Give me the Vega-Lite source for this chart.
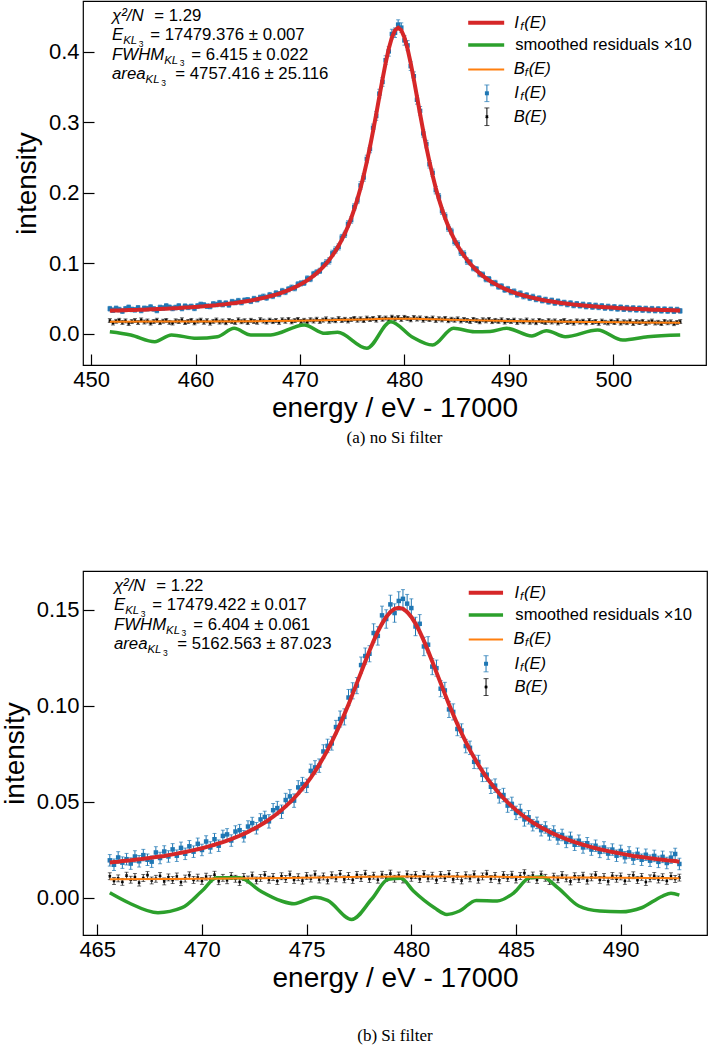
{
"$schema": "https://vega.github.io/schema/vega-lite/v6.json",
"background": "white",
"padding": {"left": 0, "top": 0, "right": 2, "bottom": 5},
"spacing": 123,
"config": {
 "view": {"stroke": "black", "strokeWidth": 1.2},
 "axis": {"domain": false, "grid": false, "ticks": true, "tickSize": -11, "tickWidth": 1.2, "tickColor": "black", "labelFont": "Liberation Sans", "labelFontSize": 22, "labelColor": "black", "labelPadding": 15, "labelFlush": false, "labelOverlap": false, "titleFont": "Liberation Sans", "titleFontSize": 28, "titleFontWeight": "normal", "titleColor": "black"},
 "axisX": {"titlePadding": 4},
 "axisY": {"titlePadding": 7},
 "text": {"font": "Liberation Sans", "color": "black"},
 "title": {"font": "Liberation Serif", "fontSize": 17, "fontWeight": "normal", "color": "black"}
},
"datasets": {
"a": [
{"e":451.8,"i":0.0352,"ie":0.0033,"f":0.0324,"b":0.0183,"be":0.0028},
{"e":452.1,"i":0.0331,"ie":0.0033,"f":0.0325,"b":0.0149,"be":0.0028},
{"e":452.4,"i":0.0357,"ie":0.0033,"f":0.0326,"b":0.0174,"be":0.0028},
{"e":452.7,"i":0.0340,"ie":0.0033,"f":0.0328,"b":0.0188,"be":0.0028},
{"e":453.0,"i":0.0318,"ie":0.0033,"f":0.0329,"b":0.0158,"be":0.0028},
{"e":453.3,"i":0.0351,"ie":0.0033,"f":0.0330,"b":0.0179,"be":0.0028},
{"e":453.6,"i":0.0372,"ie":0.0033,"f":0.0332,"b":0.0143,"be":0.0028},
{"e":453.9,"i":0.0342,"ie":0.0033,"f":0.0333,"b":0.0169,"be":0.0028},
{"e":454.2,"i":0.0336,"ie":0.0033,"f":0.0335,"b":0.0184,"be":0.0028},
{"e":454.5,"i":0.0365,"ie":0.0033,"f":0.0336,"b":0.0157,"be":0.0028},
{"e":454.8,"i":0.0327,"ie":0.0033,"f":0.0338,"b":0.0193,"be":0.0028},
{"e":455.1,"i":0.0358,"ie":0.0033,"f":0.0339,"b":0.0163,"be":0.0028},
{"e":455.4,"i":0.0352,"ie":0.0033,"f":0.0341,"b":0.0178,"be":0.0028},
{"e":455.7,"i":0.0376,"ie":0.0033,"f":0.0343,"b":0.0148,"be":0.0028},
{"e":456.0,"i":0.0349,"ie":0.0033,"f":0.0345,"b":0.0170,"be":0.0028},
{"e":456.3,"i":0.0327,"ie":0.0033,"f":0.0347,"b":0.0189,"be":0.0028},
{"e":456.6,"i":0.0370,"ie":0.0033,"f":0.0349,"b":0.0154,"be":0.0028},
{"e":456.9,"i":0.0362,"ie":0.0033,"f":0.0351,"b":0.0175,"be":0.0028},
{"e":457.2,"i":0.0391,"ie":0.0033,"f":0.0353,"b":0.0186,"be":0.0028},
{"e":457.5,"i":0.0373,"ie":0.0033,"f":0.0355,"b":0.0159,"be":0.0028},
{"e":457.8,"i":0.0356,"ie":0.0033,"f":0.0357,"b":0.0149,"be":0.0028},
{"e":458.1,"i":0.0369,"ie":0.0033,"f":0.0360,"b":0.0180,"be":0.0028},
{"e":458.4,"i":0.0391,"ie":0.0033,"f":0.0362,"b":0.0169,"be":0.0028},
{"e":458.7,"i":0.0355,"ie":0.0033,"f":0.0365,"b":0.0195,"be":0.0028},
{"e":459.0,"i":0.0388,"ie":0.0033,"f":0.0368,"b":0.0155,"be":0.0028},
{"e":459.3,"i":0.0372,"ie":0.0033,"f":0.0371,"b":0.0172,"be":0.0028},
{"e":459.6,"i":0.0385,"ie":0.0033,"f":0.0374,"b":0.0187,"be":0.0028},
{"e":459.9,"i":0.0357,"ie":0.0033,"f":0.0377,"b":0.0151,"be":0.0028},
{"e":460.2,"i":0.0391,"ie":0.0033,"f":0.0380,"b":0.0176,"be":0.0028},
{"e":460.5,"i":0.0413,"ie":0.0033,"f":0.0384,"b":0.0190,"be":0.0028},
{"e":460.8,"i":0.0405,"ie":0.0033,"f":0.0387,"b":0.0160,"be":0.0028},
{"e":461.1,"i":0.0388,"ie":0.0033,"f":0.0391,"b":0.0181,"be":0.0028},
{"e":461.4,"i":0.0384,"ie":0.0033,"f":0.0395,"b":0.0147,"be":0.0028},
{"e":461.7,"i":0.0420,"ie":0.0033,"f":0.0399,"b":0.0173,"be":0.0028},
{"e":462.0,"i":0.0411,"ie":0.0033,"f":0.0403,"b":0.0192,"be":0.0028},
{"e":462.3,"i":0.0437,"ie":0.0033,"f":0.0408,"b":0.0162,"be":0.0028},
{"e":462.6,"i":0.0410,"ie":0.0033,"f":0.0412,"b":0.0178,"be":0.0028},
{"e":462.9,"i":0.0431,"ie":0.0033,"f":0.0417,"b":0.0153,"be":0.0028},
{"e":463.2,"i":0.0406,"ie":0.0033,"f":0.0423,"b":0.0185,"be":0.0028},
{"e":463.5,"i":0.0452,"ie":0.0033,"f":0.0428,"b":0.0170,"be":0.0028},
{"e":463.8,"i":0.0440,"ie":0.0033,"f":0.0434,"b":0.0158,"be":0.0028},
{"e":464.1,"i":0.0466,"ie":0.0033,"f":0.0441,"b":0.0194,"be":0.0028},
{"e":464.4,"i":0.0439,"ie":0.0033,"f":0.0447,"b":0.0167,"be":0.0028},
{"e":464.7,"i":0.0472,"ie":0.0033,"f":0.0454,"b":0.0181,"be":0.0028},
{"e":465.0,"i":0.0478,"ie":0.0033,"f":0.0462,"b":0.0156,"be":0.0028},
{"e":465.3,"i":0.0458,"ie":0.0033,"f":0.0469,"b":0.0188,"be":0.0028},
{"e":465.6,"i":0.0495,"ie":0.0033,"f":0.0478,"b":0.0171,"be":0.0028},
{"e":465.9,"i":0.0480,"ie":0.0033,"f":0.0487,"b":0.0160,"be":0.0028},
{"e":466.2,"i":0.0512,"ie":0.0033,"f":0.0496,"b":0.0196,"be":0.0028},
{"e":466.5,"i":0.0523,"ie":0.0037,"f":0.0506,"b":0.0177,"be":0.0028},
{"e":466.8,"i":0.0508,"ie":0.0037,"f":0.0517,"b":0.0162,"be":0.0028},
{"e":467.1,"i":0.0546,"ie":0.0037,"f":0.0528,"b":0.0190,"be":0.0028},
{"e":467.4,"i":0.0532,"ie":0.0037,"f":0.0540,"b":0.0168,"be":0.0028},
{"e":467.7,"i":0.0571,"ie":0.0037,"f":0.0553,"b":0.0185,"be":0.0028},
{"e":468.0,"i":0.0560,"ie":0.0037,"f":0.0567,"b":0.0159,"be":0.0028},
{"e":468.3,"i":0.0604,"ie":0.0037,"f":0.0582,"b":0.0194,"be":0.0028},
{"e":468.6,"i":0.0589,"ie":0.0037,"f":0.0598,"b":0.0174,"be":0.0028},
{"e":468.9,"i":0.0628,"ie":0.0037,"f":0.0616,"b":0.0199,"be":0.0028},
{"e":469.2,"i":0.0651,"ie":0.0037,"f":0.0635,"b":0.0165,"be":0.0028},
{"e":469.5,"i":0.0643,"ie":0.0037,"f":0.0655,"b":0.0183,"be":0.0028},
{"e":469.8,"i":0.0698,"ie":0.0037,"f":0.0677,"b":0.0201,"be":0.0028},
{"e":470.1,"i":0.0712,"ie":0.0037,"f":0.0701,"b":0.0170,"be":0.0028},
{"e":470.4,"i":0.0719,"ie":0.0037,"f":0.0727,"b":0.0188,"be":0.0028},
{"e":470.7,"i":0.0781,"ie":0.0037,"f":0.0755,"b":0.0166,"be":0.0028},
{"e":471.0,"i":0.0773,"ie":0.0037,"f":0.0786,"b":0.0195,"be":0.0028},
{"e":471.3,"i":0.0845,"ie":0.0037,"f":0.0819,"b":0.0177,"be":0.0028},
{"e":471.6,"i":0.0868,"ie":0.0037,"f":0.0856,"b":0.0203,"be":0.0028},
{"e":471.9,"i":0.0889,"ie":0.0037,"f":0.0897,"b":0.0172,"be":0.0028},
{"e":472.2,"i":0.0972,"ie":0.0037,"f":0.0941,"b":0.0190,"be":0.0028},
{"e":472.5,"i":0.1003,"ie":0.0045,"f":0.0990,"b":0.0208,"be":0.0028},
{"e":472.8,"i":0.1031,"ie":0.0045,"f":0.1045,"b":0.0175,"be":0.0028},
{"e":473.1,"i":0.1138,"ie":0.0045,"f":0.1105,"b":0.0194,"be":0.0028},
{"e":473.4,"i":0.1186,"ie":0.0045,"f":0.1171,"b":0.0181,"be":0.0028},
{"e":473.7,"i":0.1229,"ie":0.0045,"f":0.1245,"b":0.0210,"be":0.0028},
{"e":474.0,"i":0.1362,"ie":0.0045,"f":0.1328,"b":0.0185,"be":0.0028},
{"e":474.3,"i":0.1408,"ie":0.0045,"f":0.1420,"b":0.0202,"be":0.0028},
{"e":474.6,"i":0.1555,"ie":0.0045,"f":0.1522,"b":0.0178,"be":0.0028},
{"e":474.9,"i":0.1611,"ie":0.0045,"f":0.1637,"b":0.0199,"be":0.0028},
{"e":475.2,"i":0.1797,"ie":0.0045,"f":0.1765,"b":0.0215,"be":0.0028},
{"e":475.5,"i":0.1889,"ie":0.0045,"f":0.1908,"b":0.0189,"be":0.0028},
{"e":475.8,"i":0.2102,"ie":0.0053,"f":0.2066,"b":0.0208,"be":0.0028},
{"e":476.1,"i":0.2215,"ie":0.0053,"f":0.2242,"b":0.0183,"be":0.0028},
{"e":476.4,"i":0.2478,"ie":0.0053,"f":0.2436,"b":0.0219,"be":0.0028},
{"e":476.7,"i":0.2619,"ie":0.0053,"f":0.2647,"b":0.0197,"be":0.0028},
{"e":477.0,"i":0.2920,"ie":0.0053,"f":0.2875,"b":0.0214,"be":0.0028},
{"e":477.3,"i":0.3088,"ie":0.0062,"f":0.3115,"b":0.0190,"be":0.0028},
{"e":477.6,"i":0.3405,"ie":0.0062,"f":0.3362,"b":0.0225,"be":0.0028},
{"e":477.9,"i":0.3571,"ie":0.0062,"f":0.3607,"b":0.0203,"be":0.0028},
{"e":478.2,"i":0.3880,"ie":0.0062,"f":0.3838,"b":0.0220,"be":0.0028},
{"e":478.5,"i":0.4005,"ie":0.0068,"f":0.4042,"b":0.0196,"be":0.0028},
{"e":478.8,"i":0.4251,"ie":0.0068,"f":0.4202,"b":0.0232,"be":0.0028},
{"e":479.1,"i":0.4270,"ie":0.0068,"f":0.4304,"b":0.0208,"be":0.0028},
{"e":479.4,"i":0.4385,"ie":0.0068,"f":0.4340,"b":0.0226,"be":0.0028},
{"e":479.7,"i":0.4342,"ie":0.0068,"f":0.4304,"b":0.0201,"be":0.0028},
{"e":480.0,"i":0.4161,"ie":0.0068,"f":0.4202,"b":0.0230,"be":0.0028},
{"e":480.3,"i":0.4090,"ie":0.0068,"f":0.4042,"b":0.0214,"be":0.0028},
{"e":480.6,"i":0.3795,"ie":0.0062,"f":0.3838,"b":0.0194,"be":0.0028},
{"e":480.9,"i":0.3652,"ie":0.0062,"f":0.3607,"b":0.0227,"be":0.0028},
{"e":481.2,"i":0.3318,"ie":0.0062,"f":0.3362,"b":0.0205,"be":0.0028},
{"e":481.5,"i":0.3160,"ie":0.0062,"f":0.3115,"b":0.0221,"be":0.0028},
{"e":481.8,"i":0.2841,"ie":0.0053,"f":0.2875,"b":0.0189,"be":0.0028},
{"e":482.1,"i":0.2689,"ie":0.0053,"f":0.2647,"b":0.0216,"be":0.0028},
{"e":482.4,"i":0.2402,"ie":0.0053,"f":0.2436,"b":0.0197,"be":0.0028},
{"e":482.7,"i":0.2281,"ie":0.0053,"f":0.2242,"b":0.0220,"be":0.0028},
{"e":483.0,"i":0.2035,"ie":0.0053,"f":0.2066,"b":0.0186,"be":0.0028},
{"e":483.3,"i":0.1942,"ie":0.0045,"f":0.1908,"b":0.0209,"be":0.0028},
{"e":483.6,"i":0.1738,"ie":0.0045,"f":0.1765,"b":0.0193,"be":0.0028},
{"e":483.9,"i":0.1668,"ie":0.0045,"f":0.1637,"b":0.0214,"be":0.0028},
{"e":484.2,"i":0.1496,"ie":0.0045,"f":0.1522,"b":0.0181,"be":0.0028},
{"e":484.5,"i":0.1449,"ie":0.0045,"f":0.1420,"b":0.0203,"be":0.0028},
{"e":484.8,"i":0.1301,"ie":0.0045,"f":0.1328,"b":0.0189,"be":0.0028},
{"e":485.1,"i":0.1270,"ie":0.0045,"f":0.1245,"b":0.0208,"be":0.0028},
{"e":485.4,"i":0.1152,"ie":0.0045,"f":0.1171,"b":0.0178,"be":0.0028},
{"e":485.7,"i":0.1128,"ie":0.0045,"f":0.1105,"b":0.0199,"be":0.0028},
{"e":486.0,"i":0.1027,"ie":0.0045,"f":0.1045,"b":0.0186,"be":0.0028},
{"e":486.3,"i":0.1011,"ie":0.0037,"f":0.0990,"b":0.0172,"be":0.0028},
{"e":486.6,"i":0.0926,"ie":0.0037,"f":0.0941,"b":0.0201,"be":0.0028},
{"e":486.9,"i":0.0913,"ie":0.0037,"f":0.0897,"b":0.0183,"be":0.0028},
{"e":487.2,"i":0.0842,"ie":0.0037,"f":0.0856,"b":0.0166,"be":0.0028},
{"e":487.5,"i":0.0836,"ie":0.0037,"f":0.0819,"b":0.0195,"be":0.0028},
{"e":487.8,"i":0.0771,"ie":0.0037,"f":0.0786,"b":0.0179,"be":0.0028},
{"e":488.1,"i":0.0772,"ie":0.0037,"f":0.0755,"b":0.0200,"be":0.0028},
{"e":488.4,"i":0.0713,"ie":0.0037,"f":0.0727,"b":0.0168,"be":0.0028},
{"e":488.7,"i":0.0718,"ie":0.0037,"f":0.0701,"b":0.0187,"be":0.0028},
{"e":489.0,"i":0.0665,"ie":0.0037,"f":0.0677,"b":0.0173,"be":0.0028},
{"e":489.3,"i":0.0670,"ie":0.0037,"f":0.0655,"b":0.0194,"be":0.0028},
{"e":489.6,"i":0.0621,"ie":0.0037,"f":0.0635,"b":0.0162,"be":0.0028},
{"e":489.9,"i":0.0632,"ie":0.0037,"f":0.0616,"b":0.0185,"be":0.0028},
{"e":490.2,"i":0.0587,"ie":0.0037,"f":0.0598,"b":0.0171,"be":0.0028},
{"e":490.5,"i":0.0596,"ie":0.0037,"f":0.0582,"b":0.0190,"be":0.0028},
{"e":490.8,"i":0.0552,"ie":0.0037,"f":0.0567,"b":0.0158,"be":0.0028},
{"e":491.1,"i":0.0569,"ie":0.0037,"f":0.0553,"b":0.0180,"be":0.0028},
{"e":491.4,"i":0.0528,"ie":0.0037,"f":0.0540,"b":0.0166,"be":0.0028},
{"e":491.7,"i":0.0543,"ie":0.0037,"f":0.0528,"b":0.0192,"be":0.0028},
{"e":492.0,"i":0.0505,"ie":0.0037,"f":0.0517,"b":0.0160,"be":0.0028},
{"e":492.3,"i":0.0521,"ie":0.0037,"f":0.0506,"b":0.0178,"be":0.0028},
{"e":492.6,"i":0.0484,"ie":0.0033,"f":0.0496,"b":0.0153,"be":0.0028},
{"e":492.9,"i":0.0502,"ie":0.0033,"f":0.0487,"b":0.0186,"be":0.0028},
{"e":493.2,"i":0.0466,"ie":0.0033,"f":0.0478,"b":0.0169,"be":0.0028},
{"e":493.5,"i":0.0483,"ie":0.0033,"f":0.0469,"b":0.0157,"be":0.0028},
{"e":493.8,"i":0.0449,"ie":0.0033,"f":0.0462,"b":0.0182,"be":0.0028},
{"e":494.1,"i":0.0471,"ie":0.0033,"f":0.0454,"b":0.0163,"be":0.0028},
{"e":494.4,"i":0.0433,"ie":0.0033,"f":0.0447,"b":0.0179,"be":0.0028},
{"e":494.7,"i":0.0458,"ie":0.0033,"f":0.0441,"b":0.0150,"be":0.0028},
{"e":495.0,"i":0.0427,"ie":0.0033,"f":0.0434,"b":0.0172,"be":0.0028},
{"e":495.3,"i":0.0440,"ie":0.0033,"f":0.0428,"b":0.0185,"be":0.0028},
{"e":495.6,"i":0.0411,"ie":0.0033,"f":0.0423,"b":0.0156,"be":0.0028},
{"e":495.9,"i":0.0432,"ie":0.0033,"f":0.0417,"b":0.0168,"be":0.0028},
{"e":496.2,"i":0.0398,"ie":0.0033,"f":0.0412,"b":0.0147,"be":0.0028},
{"e":496.5,"i":0.0421,"ie":0.0033,"f":0.0408,"b":0.0179,"be":0.0028},
{"e":496.8,"i":0.0394,"ie":0.0033,"f":0.0403,"b":0.0162,"be":0.0028},
{"e":497.1,"i":0.0413,"ie":0.0033,"f":0.0399,"b":0.0175,"be":0.0028},
{"e":497.4,"i":0.0382,"ie":0.0033,"f":0.0395,"b":0.0151,"be":0.0028},
{"e":497.7,"i":0.0405,"ie":0.0033,"f":0.0391,"b":0.0183,"be":0.0028},
{"e":498.0,"i":0.0376,"ie":0.0033,"f":0.0387,"b":0.0158,"be":0.0028},
{"e":498.3,"i":0.0399,"ie":0.0033,"f":0.0384,"b":0.0170,"be":0.0028},
{"e":498.6,"i":0.0371,"ie":0.0033,"f":0.0380,"b":0.0145,"be":0.0028},
{"e":498.9,"i":0.0391,"ie":0.0033,"f":0.0377,"b":0.0177,"be":0.0028},
{"e":499.2,"i":0.0362,"ie":0.0033,"f":0.0374,"b":0.0160,"be":0.0028},
{"e":499.5,"i":0.0384,"ie":0.0033,"f":0.0371,"b":0.0149,"be":0.0028},
{"e":499.8,"i":0.0357,"ie":0.0033,"f":0.0368,"b":0.0174,"be":0.0028},
{"e":500.1,"i":0.0378,"ie":0.0033,"f":0.0365,"b":0.0155,"be":0.0028},
{"e":500.4,"i":0.0349,"ie":0.0033,"f":0.0362,"b":0.0181,"be":0.0028},
{"e":500.7,"i":0.0373,"ie":0.0033,"f":0.0360,"b":0.0148,"be":0.0028},
{"e":501.0,"i":0.0345,"ie":0.0033,"f":0.0357,"b":0.0166,"be":0.0028},
{"e":501.3,"i":0.0366,"ie":0.0033,"f":0.0355,"b":0.0153,"be":0.0028},
{"e":501.6,"i":0.0341,"ie":0.0033,"f":0.0353,"b":0.0176,"be":0.0028},
{"e":501.9,"i":0.0362,"ie":0.0033,"f":0.0351,"b":0.0142,"be":0.0028},
{"e":502.2,"i":0.0336,"ie":0.0033,"f":0.0349,"b":0.0168,"be":0.0028},
{"e":502.5,"i":0.0359,"ie":0.0033,"f":0.0347,"b":0.0155,"be":0.0028},
{"e":502.8,"i":0.0333,"ie":0.0033,"f":0.0345,"b":0.0173,"be":0.0028},
{"e":503.1,"i":0.0355,"ie":0.0033,"f":0.0343,"b":0.0144,"be":0.0028},
{"e":503.4,"i":0.0328,"ie":0.0033,"f":0.0341,"b":0.0162,"be":0.0028},
{"e":503.7,"i":0.0352,"ie":0.0033,"f":0.0339,"b":0.0177,"be":0.0028},
{"e":504.0,"i":0.0325,"ie":0.0033,"f":0.0338,"b":0.0149,"be":0.0028},
{"e":504.3,"i":0.0348,"ie":0.0033,"f":0.0336,"b":0.0160,"be":0.0028},
{"e":504.6,"i":0.0322,"ie":0.0033,"f":0.0335,"b":0.0141,"be":0.0028},
{"e":504.9,"i":0.0346,"ie":0.0033,"f":0.0333,"b":0.0171,"be":0.0028},
{"e":505.2,"i":0.0319,"ie":0.0033,"f":0.0332,"b":0.0152,"be":0.0028},
{"e":505.5,"i":0.0343,"ie":0.0033,"f":0.0330,"b":0.0166,"be":0.0028},
{"e":505.8,"i":0.0317,"ie":0.0033,"f":0.0329,"b":0.0139,"be":0.0028},
{"e":506.1,"i":0.0340,"ie":0.0033,"f":0.0328,"b":0.0158,"be":0.0028},
{"e":506.4,"i":0.0321,"ie":0.0033,"f":0.0326,"b":0.0169,"be":0.0028}
],
"ab": [
{"e":451.8,"g":0.0168},{"e":456,"g":0.0169},{"e":460,"g":0.0170},{"e":466,"g":0.0175},{"e":470,"g":0.0181},{"e":473,"g":0.0190},{"e":476,"g":0.0200},{"e":478,"g":0.0208},{"e":479.4,"g":0.0211},{"e":481,"g":0.0208},{"e":483,"g":0.0201},{"e":486,"g":0.0190},{"e":490,"g":0.0178},{"e":494,"g":0.0169},{"e":498,"g":0.0163},{"e":502,"g":0.0158},{"e":506.4,"g":0.0153}
],
"ag": [
{"e":451.8,"r":0.0026},{"e":453.8,"r":-0.0020},{"e":456.1,"r":-0.0116},{"e":457.7,"r":-0.0020},{"e":460.1,"r":-0.0069},{"e":462.1,"r":-0.0045},{"e":463.7,"r":0.0073},{"e":465.3,"r":-0.0020},{"e":467.2,"r":-0.0020},{"e":470.4,"r":0.0121},{"e":472.4,"r":0.0003},{"e":473.6,"r":0.0017},{"e":476.4,"r":-0.0210},{"e":478.7,"r":0.0168},{"e":480.7,"r":-0.0045},{"e":482.7,"r":-0.0163},{"e":484.7,"r":0.0074},{"e":486.7,"r":0.0026},{"e":488.2,"r":0.0030},{"e":489.8,"r":0.0074},{"e":492.2,"r":-0.0035},{"e":493.6,"r":0.0040},{"e":495.4,"r":-0.0045},{"e":498.5,"r":0.0050},{"e":500.9,"r":-0.0092},{"e":503.3,"r":-0.0045},{"e":506.4,"r":-0.0020}
],
"al": [
{"k":"fit","x":486.105,"x2":489.55,"y":0.4412},
{"k":"res","x":486.105,"x2":489.55,"y":0.4095},
{"k":"bgf","x":486.105,"x2":489.55,"y":0.3749},
{"k":"pts","x":487.895,"y":0.3410,"err":0.0118},
{"k":"bkg","x":487.895,"y":0.3077,"err":0.0125}
],
"at": [
{"part":"sym","x":452.010,"y":0.4436,"t":"χ²/N"},
{"part":"val","x":456.057,"y":0.4436,"t":"= 1.29"},
{"part":"sym","x":452.010,"y":0.4166,"t":"E"},
{"part":"sub","x":453.081,"y":0.4166,"t":"KL"},
{"part":"idx","x":454.565,"y":0.4166,"t":"3"},
{"part":"val","x":455.675,"y":0.4166,"t":"= 17479.376 ± 0.007"},
{"part":"sym","x":452.010,"y":0.3889,"t":"FWHM"},
{"part":"sub","x":457.005,"y":0.3889,"t":"KL"},
{"part":"idx","x":458.488,"y":0.3889,"t":"3"},
{"part":"val","x":459.598,"y":0.3889,"t":"= 6.415 ± 0.022"},
{"part":"sym","x":452.010,"y":0.3612,"t":"area"},
{"part":"sub","x":455.225,"y":0.3612,"t":"KL"},
{"part":"idx","x":456.709,"y":0.3612,"t":"3"},
{"part":"val","x":458.067,"y":0.3612,"t":"= 4757.416 ± 25.116"},
{"part":"lab","x":490.507,"y":0.4412,"t":"I"},
{"part":"labsub","x":491.081,"y":0.4412,"t":"f"},
{"part":"lab","x":491.464,"y":0.4412,"t":"(E)"},
{"part":"labrm","x":490.603,"y":0.4095,"t":"smoothed residuals ×10"},
{"part":"lab","x":490.459,"y":0.3749,"t":"B"},
{"part":"labsub","x":491.512,"y":0.3749,"t":"f"},
{"part":"lab","x":491.895,"y":0.3749,"t":"(E)"},
{"part":"lab","x":490.507,"y":0.3410,"t":"I"},
{"part":"labsub","x":491.081,"y":0.3410,"t":"f"},
{"part":"lab","x":491.464,"y":0.3410,"t":"(E)"},
{"part":"lab","x":490.459,"y":0.3077,"t":"B(E)"}
],
"b": [
{"e":465.6,"i":0.0195,"ie":0.0030,"f":0.0184,"b":0.0112,"be":0.0018},
{"e":465.8,"i":0.0172,"ie":0.0030,"f":0.0186,"b":0.0087,"be":0.0018},
{"e":466.0,"i":0.0210,"ie":0.0030,"f":0.0188,"b":0.0101,"be":0.0018},
{"e":466.2,"i":0.0183,"ie":0.0030,"f":0.0191,"b":0.0083,"be":0.0018},
{"e":466.4,"i":0.0201,"ie":0.0030,"f":0.0193,"b":0.0115,"be":0.0018},
{"e":466.6,"i":0.0178,"ie":0.0030,"f":0.0195,"b":0.0094,"be":0.0018},
{"e":466.8,"i":0.0215,"ie":0.0030,"f":0.0198,"b":0.0108,"be":0.0018},
{"e":467.0,"i":0.0190,"ie":0.0030,"f":0.0200,"b":0.0079,"be":0.0018},
{"e":467.2,"i":0.0222,"ie":0.0030,"f":0.0203,"b":0.0103,"be":0.0018},
{"e":467.4,"i":0.0198,"ie":0.0030,"f":0.0206,"b":0.0118,"be":0.0018},
{"e":467.6,"i":0.0188,"ie":0.0030,"f":0.0209,"b":0.0090,"be":0.0018},
{"e":467.8,"i":0.0236,"ie":0.0030,"f":0.0212,"b":0.0099,"be":0.0018},
{"e":468.0,"i":0.0207,"ie":0.0030,"f":0.0215,"b":0.0114,"be":0.0018},
{"e":468.2,"i":0.0241,"ie":0.0030,"f":0.0218,"b":0.0085,"be":0.0018},
{"e":468.4,"i":0.0215,"ie":0.0030,"f":0.0222,"b":0.0106,"be":0.0018},
{"e":468.6,"i":0.0252,"ie":0.0030,"f":0.0226,"b":0.0092,"be":0.0018},
{"e":468.8,"i":0.0219,"ie":0.0030,"f":0.0230,"b":0.0111,"be":0.0018},
{"e":469.0,"i":0.0260,"ie":0.0030,"f":0.0234,"b":0.0081,"be":0.0018},
{"e":469.2,"i":0.0229,"ie":0.0030,"f":0.0238,"b":0.0100,"be":0.0018},
{"e":469.4,"i":0.0268,"ie":0.0030,"f":0.0243,"b":0.0117,"be":0.0018},
{"e":469.6,"i":0.0240,"ie":0.0030,"f":0.0248,"b":0.0093,"be":0.0018},
{"e":469.8,"i":0.0281,"ie":0.0030,"f":0.0253,"b":0.0105,"be":0.0018},
{"e":470.0,"i":0.0249,"ie":0.0030,"f":0.0258,"b":0.0088,"be":0.0018},
{"e":470.2,"i":0.0293,"ie":0.0030,"f":0.0264,"b":0.0110,"be":0.0018},
{"e":470.4,"i":0.0262,"ie":0.0030,"f":0.0270,"b":0.0097,"be":0.0018},
{"e":470.6,"i":0.0305,"ie":0.0030,"f":0.0276,"b":0.0120,"be":0.0018},
{"e":470.8,"i":0.0271,"ie":0.0030,"f":0.0283,"b":0.0086,"be":0.0018},
{"e":471.0,"i":0.0322,"ie":0.0030,"f":0.0290,"b":0.0104,"be":0.0018},
{"e":471.2,"i":0.0330,"ie":0.0030,"f":0.0298,"b":0.0091,"be":0.0018},
{"e":471.4,"i":0.0298,"ie":0.0030,"f":0.0306,"b":0.0113,"be":0.0018},
{"e":471.6,"i":0.0345,"ie":0.0030,"f":0.0314,"b":0.0099,"be":0.0018},
{"e":471.8,"i":0.0352,"ie":0.0030,"f":0.0323,"b":0.0082,"be":0.0018},
{"e":472.0,"i":0.0320,"ie":0.0030,"f":0.0333,"b":0.0108,"be":0.0018},
{"e":472.2,"i":0.0371,"ie":0.0030,"f":0.0343,"b":0.0095,"be":0.0018},
{"e":472.4,"i":0.0389,"ie":0.0030,"f":0.0355,"b":0.0116,"be":0.0018},
{"e":472.6,"i":0.0362,"ie":0.0030,"f":0.0366,"b":0.0090,"be":0.0018},
{"e":472.8,"i":0.0408,"ie":0.0030,"f":0.0379,"b":0.0103,"be":0.0018},
{"e":473.0,"i":0.0421,"ie":0.0030,"f":0.0392,"b":0.0119,"be":0.0018},
{"e":473.2,"i":0.0398,"ie":0.0035,"f":0.0407,"b":0.0094,"be":0.0018},
{"e":473.4,"i":0.0456,"ie":0.0035,"f":0.0422,"b":0.0108,"be":0.0018},
{"e":473.6,"i":0.0467,"ie":0.0035,"f":0.0439,"b":0.0087,"be":0.0018},
{"e":473.8,"i":0.0448,"ie":0.0035,"f":0.0457,"b":0.0112,"be":0.0018},
{"e":474.0,"i":0.0509,"ie":0.0035,"f":0.0476,"b":0.0098,"be":0.0018},
{"e":474.2,"i":0.0528,"ie":0.0035,"f":0.0497,"b":0.0121,"be":0.0018},
{"e":474.4,"i":0.0506,"ie":0.0035,"f":0.0519,"b":0.0093,"be":0.0018},
{"e":474.6,"i":0.0575,"ie":0.0035,"f":0.0543,"b":0.0107,"be":0.0018},
{"e":474.8,"i":0.0592,"ie":0.0035,"f":0.0569,"b":0.0089,"be":0.0018},
{"e":475.0,"i":0.0583,"ie":0.0035,"f":0.0596,"b":0.0114,"be":0.0018},
{"e":475.2,"i":0.0661,"ie":0.0035,"f":0.0626,"b":0.0100,"be":0.0018},
{"e":475.4,"i":0.0679,"ie":0.0035,"f":0.0658,"b":0.0122,"be":0.0018},
{"e":475.6,"i":0.0688,"ie":0.0035,"f":0.0693,"b":0.0095,"be":0.0018},
{"e":475.8,"i":0.0762,"ie":0.0035,"f":0.0730,"b":0.0111,"be":0.0018},
{"e":476.0,"i":0.0791,"ie":0.0035,"f":0.0769,"b":0.0090,"be":0.0018},
{"e":476.2,"i":0.0804,"ie":0.0035,"f":0.0812,"b":0.0117,"be":0.0018},
{"e":476.4,"i":0.0889,"ie":0.0035,"f":0.0857,"b":0.0101,"be":0.0018},
{"e":476.6,"i":0.0931,"ie":0.0042,"f":0.0904,"b":0.0124,"be":0.0018},
{"e":476.8,"i":0.0942,"ie":0.0042,"f":0.0955,"b":0.0096,"be":0.0018},
{"e":477.0,"i":0.1043,"ie":0.0042,"f":0.1007,"b":0.0113,"be":0.0018},
{"e":477.2,"i":0.1078,"ie":0.0042,"f":0.1062,"b":0.0093,"be":0.0018},
{"e":477.4,"i":0.1105,"ie":0.0042,"f":0.1118,"b":0.0119,"be":0.0018},
{"e":477.6,"i":0.1212,"ie":0.0042,"f":0.1174,"b":0.0102,"be":0.0018},
{"e":477.8,"i":0.1259,"ie":0.0042,"f":0.1231,"b":0.0125,"be":0.0018},
{"e":478.0,"i":0.1271,"ie":0.0042,"f":0.1286,"b":0.0098,"be":0.0018},
{"e":478.2,"i":0.1379,"ie":0.0048,"f":0.1338,"b":0.0115,"be":0.0018},
{"e":478.4,"i":0.1364,"ie":0.0048,"f":0.1386,"b":0.0094,"be":0.0018},
{"e":478.6,"i":0.1471,"ie":0.0048,"f":0.1428,"b":0.0120,"be":0.0018},
{"e":478.8,"i":0.1452,"ie":0.0048,"f":0.1463,"b":0.0103,"be":0.0018},
{"e":479.0,"i":0.1528,"ie":0.0048,"f":0.1489,"b":0.0126,"be":0.0018},
{"e":479.2,"i":0.1483,"ie":0.0048,"f":0.1505,"b":0.0099,"be":0.0018},
{"e":479.4,"i":0.1546,"ie":0.0048,"f":0.1510,"b":0.0116,"be":0.0018},
{"e":479.6,"i":0.1557,"ie":0.0048,"f":0.1505,"b":0.0095,"be":0.0018},
{"e":479.8,"i":0.1532,"ie":0.0048,"f":0.1489,"b":0.0122,"be":0.0018},
{"e":480.0,"i":0.1509,"ie":0.0048,"f":0.1463,"b":0.0104,"be":0.0018},
{"e":480.2,"i":0.1413,"ie":0.0048,"f":0.1428,"b":0.0118,"be":0.0018},
{"e":480.4,"i":0.1427,"ie":0.0048,"f":0.1386,"b":0.0097,"be":0.0018},
{"e":480.6,"i":0.1309,"ie":0.0048,"f":0.1338,"b":0.0123,"be":0.0018},
{"e":480.8,"i":0.1318,"ie":0.0042,"f":0.1286,"b":0.0101,"be":0.0018},
{"e":481.0,"i":0.1204,"ie":0.0042,"f":0.1231,"b":0.0115,"be":0.0018},
{"e":481.2,"i":0.1196,"ie":0.0042,"f":0.1174,"b":0.0092,"be":0.0018},
{"e":481.4,"i":0.1089,"ie":0.0042,"f":0.1118,"b":0.0119,"be":0.0018},
{"e":481.6,"i":0.1080,"ie":0.0042,"f":0.1062,"b":0.0103,"be":0.0018},
{"e":481.8,"i":0.0981,"ie":0.0042,"f":0.1007,"b":0.0124,"be":0.0018},
{"e":482.0,"i":0.0968,"ie":0.0042,"f":0.0955,"b":0.0096,"be":0.0018},
{"e":482.2,"i":0.0879,"ie":0.0035,"f":0.0904,"b":0.0113,"be":0.0018},
{"e":482.4,"i":0.0871,"ie":0.0035,"f":0.0857,"b":0.0090,"be":0.0018},
{"e":482.6,"i":0.0790,"ie":0.0035,"f":0.0812,"b":0.0117,"be":0.0018},
{"e":482.8,"i":0.0781,"ie":0.0035,"f":0.0769,"b":0.0101,"be":0.0018},
{"e":483.0,"i":0.0708,"ie":0.0035,"f":0.0730,"b":0.0122,"be":0.0018},
{"e":483.2,"i":0.0707,"ie":0.0035,"f":0.0693,"b":0.0094,"be":0.0018},
{"e":483.4,"i":0.0640,"ie":0.0035,"f":0.0658,"b":0.0111,"be":0.0018},
{"e":483.6,"i":0.0641,"ie":0.0035,"f":0.0626,"b":0.0125,"be":0.0018},
{"e":483.8,"i":0.0578,"ie":0.0035,"f":0.0596,"b":0.0098,"be":0.0018},
{"e":484.0,"i":0.0584,"ie":0.0035,"f":0.0569,"b":0.0114,"be":0.0018},
{"e":484.2,"i":0.0528,"ie":0.0035,"f":0.0543,"b":0.0091,"be":0.0018},
{"e":484.4,"i":0.0535,"ie":0.0035,"f":0.0519,"b":0.0118,"be":0.0018},
{"e":484.6,"i":0.0480,"ie":0.0035,"f":0.0497,"b":0.0102,"be":0.0018},
{"e":484.8,"i":0.0489,"ie":0.0035,"f":0.0476,"b":0.0120,"be":0.0018},
{"e":485.0,"i":0.0442,"ie":0.0035,"f":0.0457,"b":0.0095,"be":0.0018},
{"e":485.2,"i":0.0452,"ie":0.0035,"f":0.0439,"b":0.0113,"be":0.0018},
{"e":485.4,"i":0.0408,"ie":0.0035,"f":0.0422,"b":0.0128,"be":0.0018},
{"e":485.6,"i":0.0419,"ie":0.0035,"f":0.0407,"b":0.0099,"be":0.0018},
{"e":485.8,"i":0.0378,"ie":0.0030,"f":0.0392,"b":0.0116,"be":0.0018},
{"e":486.0,"i":0.0390,"ie":0.0030,"f":0.0379,"b":0.0093,"be":0.0018},
{"e":486.2,"i":0.0352,"ie":0.0030,"f":0.0366,"b":0.0121,"be":0.0018},
{"e":486.4,"i":0.0366,"ie":0.0030,"f":0.0355,"b":0.0104,"be":0.0018},
{"e":486.6,"i":0.0330,"ie":0.0030,"f":0.0343,"b":0.0087,"be":0.0018},
{"e":486.8,"i":0.0345,"ie":0.0030,"f":0.0333,"b":0.0110,"be":0.0018},
{"e":487.0,"i":0.0309,"ie":0.0030,"f":0.0323,"b":0.0096,"be":0.0018},
{"e":487.2,"i":0.0327,"ie":0.0030,"f":0.0314,"b":0.0118,"be":0.0018},
{"e":487.4,"i":0.0291,"ie":0.0030,"f":0.0306,"b":0.0101,"be":0.0018},
{"e":487.6,"i":0.0312,"ie":0.0030,"f":0.0298,"b":0.0085,"be":0.0018},
{"e":487.8,"i":0.0276,"ie":0.0030,"f":0.0290,"b":0.0112,"be":0.0018},
{"e":488.0,"i":0.0297,"ie":0.0030,"f":0.0283,"b":0.0097,"be":0.0018},
{"e":488.2,"i":0.0262,"ie":0.0030,"f":0.0276,"b":0.0115,"be":0.0018},
{"e":488.4,"i":0.0284,"ie":0.0030,"f":0.0270,"b":0.0089,"be":0.0018},
{"e":488.6,"i":0.0251,"ie":0.0030,"f":0.0264,"b":0.0106,"be":0.0018},
{"e":488.8,"i":0.0271,"ie":0.0030,"f":0.0258,"b":0.0119,"be":0.0018},
{"e":489.0,"i":0.0239,"ie":0.0030,"f":0.0253,"b":0.0093,"be":0.0018},
{"e":489.2,"i":0.0262,"ie":0.0030,"f":0.0248,"b":0.0108,"be":0.0018},
{"e":489.4,"i":0.0230,"ie":0.0030,"f":0.0243,"b":0.0085,"be":0.0018},
{"e":489.6,"i":0.0251,"ie":0.0030,"f":0.0238,"b":0.0114,"be":0.0018},
{"e":489.8,"i":0.0219,"ie":0.0030,"f":0.0234,"b":0.0099,"be":0.0018},
{"e":490.0,"i":0.0244,"ie":0.0030,"f":0.0230,"b":0.0111,"be":0.0018},
{"e":490.2,"i":0.0211,"ie":0.0030,"f":0.0226,"b":0.0088,"be":0.0018},
{"e":490.4,"i":0.0236,"ie":0.0030,"f":0.0222,"b":0.0104,"be":0.0018},
{"e":490.6,"i":0.0204,"ie":0.0030,"f":0.0218,"b":0.0117,"be":0.0018},
{"e":490.8,"i":0.0229,"ie":0.0030,"f":0.0215,"b":0.0092,"be":0.0018},
{"e":491.0,"i":0.0198,"ie":0.0030,"f":0.0212,"b":0.0109,"be":0.0018},
{"e":491.2,"i":0.0224,"ie":0.0030,"f":0.0209,"b":0.0082,"be":0.0018},
{"e":491.4,"i":0.0193,"ie":0.0030,"f":0.0206,"b":0.0101,"be":0.0018},
{"e":491.6,"i":0.0218,"ie":0.0030,"f":0.0203,"b":0.0114,"be":0.0018},
{"e":491.8,"i":0.0187,"ie":0.0030,"f":0.0200,"b":0.0095,"be":0.0018},
{"e":492.0,"i":0.0213,"ie":0.0030,"f":0.0198,"b":0.0107,"be":0.0018},
{"e":492.2,"i":0.0181,"ie":0.0030,"f":0.0195,"b":0.0088,"be":0.0018},
{"e":492.4,"i":0.0209,"ie":0.0030,"f":0.0193,"b":0.0112,"be":0.0018},
{"e":492.6,"i":0.0228,"ie":0.0030,"f":0.0191,"b":0.0098,"be":0.0018},
{"e":492.8,"i":0.0176,"ie":0.0030,"f":0.0188,"b":0.0105,"be":0.0018}
],
"bb": [
{"e":465.6,"g":0.0096},{"e":470,"g":0.0099},{"e":474,"g":0.0103},{"e":477,"g":0.0108},{"e":479.4,"g":0.0111},{"e":482,"g":0.0111},{"e":485,"g":0.0108},{"e":488,"g":0.0105},{"e":492.8,"g":0.0102}
],
"bg": [
{"e":465.6,"r":0.0026},{"e":466.5,"r":-0.0026},{"e":467.9,"r":-0.0078},{"e":469.05,"r":-0.0052},{"e":470.0,"r":0.0035},{"e":470.7,"r":0.0104},{"e":471.8,"r":0.0104},{"e":472.8,"r":0.0035},{"e":473.8,"r":-0.0017},{"e":474.4,"r":-0.0031},{"e":475.4,"r":0.0003},{"e":476.0,"r":-0.0014},{"e":477.15,"r":-0.0113},{"e":478.1,"r":-0.0008},{"e":478.9,"r":0.0096},{"e":479.5,"r":0.0101},{"e":480.1,"r":0.0035},{"e":481.1,"r":-0.0052},{"e":481.7,"r":-0.0087},{"e":482.3,"r":-0.0069},{"e":483.1,"r":-0.0014},{"e":484.1,"r":-0.0017},{"e":484.9,"r":0.0026},{"e":485.65,"r":0.0104},{"e":486.25,"r":0.0108},{"e":487.0,"r":0.0052},{"e":488.0,"r":-0.0043},{"e":489.0,"r":-0.0069},{"e":490.0,"r":-0.0073},{"e":491.0,"r":-0.0052},{"e":492.0,"r":0.0009},{"e":492.4,"r":0.0023},{"e":492.8,"r":0.0014}
],
"bl": [
{"k":"fit","x":482.742,"x2":484.38,"y":0.15885},
{"k":"res","x":482.742,"x2":484.38,"y":0.14724},
{"k":"bgf","x":482.742,"x2":484.38,"y":0.13458},
{"k":"pts","x":483.568,"y":0.12188,"err":0.0042},
{"k":"bkg","x":483.568,"y":0.10974,"err":0.0044}
],
"bt": [
{"part":"sym","x":465.797,"y":0.1597,"t":"χ²/N"},
{"part":"val","x":467.816,"y":0.1597,"t":"= 1.22"},
{"part":"sym","x":465.797,"y":0.1498,"t":"E"},
{"part":"sub","x":466.332,"y":0.1498,"t":"KL"},
{"part":"idx","x":467.072,"y":0.1498,"t":"3"},
{"part":"val","x":467.625,"y":0.1498,"t":"= 17479.422 ± 0.017"},
{"part":"sym","x":465.797,"y":0.1397,"t":"FWHM"},
{"part":"sub","x":468.289,"y":0.1397,"t":"KL"},
{"part":"idx","x":469.029,"y":0.1397,"t":"3"},
{"part":"val","x":469.582,"y":0.1397,"t":"= 6.404 ± 0.061"},
{"part":"sym","x":465.797,"y":0.1295,"t":"area"},
{"part":"sub","x":467.401,"y":0.1295,"t":"KL"},
{"part":"idx","x":468.141,"y":0.1295,"t":"3"},
{"part":"val","x":468.819,"y":0.1295,"t":"= 5162.563 ± 87.023"},
{"part":"lab","x":484.928,"y":0.15885,"t":"I"},
{"part":"labsub","x":485.191,"y":0.15885,"t":"f"},
{"part":"lab","x":485.382,"y":0.15885,"t":"(E)"},
{"part":"labrm","x":484.967,"y":0.14724,"t":"smoothed residuals ×10"},
{"part":"lab","x":484.881,"y":0.13458,"t":"B"},
{"part":"labsub","x":485.430,"y":0.13458,"t":"f"},
{"part":"lab","x":485.621,"y":0.13458,"t":"(E)"},
{"part":"lab","x":484.928,"y":0.12188,"t":"I"},
{"part":"labsub","x":485.191,"y":0.12188,"t":"f"},
{"part":"lab","x":485.382,"y":0.12188,"t":"(E)"},
{"part":"lab","x":484.928,"y":0.10974,"t":"B(E)"}
]
},
"vconcat": [
{
 "width": 623, "height": 364,
 "title": {"text": "(a) no Si filter", "orient": "bottom", "anchor": "middle", "offset": 8},
 "layer": [
  {"data": {"name": "a"}, "mark": {"type": "errorbar", "color": "#1f77b4", "thickness": 1, "ticks": {"size": 4, "thickness": 1, "color": "#1f77b4"}},
   "encoding": {
    "x": {"field": "e", "type": "quantitative", "title": "energy / eV - 17000", "scale": {"domain": [449.23, 508.87], "nice": false, "zero": false}, "axis": {"values": [450,460,470,480,490,500], "format": "d"}},
    "y": {"field": "i", "type": "quantitative", "title": "intensity", "scale": {"domain": [-0.0447, 0.472], "nice": false, "zero": false}, "axis": {"values": [0,0.1,0.2,0.3,0.4], "format": ".1f"}},
    "yError": {"field": "ie"}}},
  {"data": {"name": "a"}, "mark": {"type": "point", "shape": "square", "filled": true, "size": 20, "color": "#1f77b4", "opacity": 1},
   "encoding": {"x": {"field": "e", "type": "quantitative", "title": "energy / eV - 17000"}, "y": {"field": "i", "type": "quantitative", "title": "intensity"}}},
  {"data": {"name": "a"}, "mark": {"type": "errorbar", "color": "black", "thickness": 0.8, "ticks": {"size": 4, "thickness": 0.8, "color": "black"}},
   "encoding": {"x": {"field": "e", "type": "quantitative", "title": "energy / eV - 17000"}, "y": {"field": "b", "type": "quantitative", "title": "intensity"}, "yError": {"field": "be"}}},
  {"data": {"name": "a"}, "mark": {"type": "point", "shape": "cross", "angle": 45, "filled": true, "size": 10, "color": "black", "opacity": 1},
   "encoding": {"x": {"field": "e", "type": "quantitative", "title": "energy / eV - 17000"}, "y": {"field": "b", "type": "quantitative", "title": "intensity"}}},
  {"data": {"name": "a"}, "mark": {"type": "line", "color": "#d62728", "strokeWidth": 4},
   "encoding": {"x": {"field": "e", "type": "quantitative", "title": "energy / eV - 17000"}, "y": {"field": "f", "type": "quantitative", "title": "intensity"}}},
  {"data": {"name": "ag"}, "mark": {"type": "line", "color": "#2ca02c", "strokeWidth": 3.5, "interpolate": "monotone"},
   "encoding": {"x": {"field": "e", "type": "quantitative", "title": "energy / eV - 17000"}, "y": {"field": "r", "type": "quantitative", "title": "intensity"}}},
  {"data": {"name": "ab"}, "mark": {"type": "line", "color": "#ff7f0e", "strokeWidth": 2, "interpolate": "monotone"},
   "encoding": {"x": {"field": "e", "type": "quantitative", "title": "energy / eV - 17000"}, "y": {"field": "g", "type": "quantitative", "title": "intensity"}}},
  {"data": {"name": "al"}, "transform": [{"filter": "datum.k == 'fit'"}], "mark": {"type": "rule", "color": "#d62728", "strokeWidth": 4},
   "encoding": {"x": {"field": "x", "type": "quantitative", "title": "energy / eV - 17000"}, "x2": {"field": "x2"}, "y": {"field": "y", "type": "quantitative", "title": "intensity"}}},
  {"data": {"name": "al"}, "transform": [{"filter": "datum.k == 'res'"}], "mark": {"type": "rule", "color": "#2ca02c", "strokeWidth": 3.5},
   "encoding": {"x": {"field": "x", "type": "quantitative", "title": "energy / eV - 17000"}, "x2": {"field": "x2"}, "y": {"field": "y", "type": "quantitative", "title": "intensity"}}},
  {"data": {"name": "al"}, "transform": [{"filter": "datum.k == 'bgf'"}], "mark": {"type": "rule", "color": "#ff7f0e", "strokeWidth": 2},
   "encoding": {"x": {"field": "x", "type": "quantitative", "title": "energy / eV - 17000"}, "x2": {"field": "x2"}, "y": {"field": "y", "type": "quantitative", "title": "intensity"}}},
  {"data": {"name": "al"}, "transform": [{"filter": "datum.k == 'pts'"}], "mark": {"type": "errorbar", "color": "#1f77b4", "thickness": 1, "ticks": {"size": 5, "thickness": 1, "color": "#1f77b4"}},
   "encoding": {"x": {"field": "x", "type": "quantitative", "title": "energy / eV - 17000"}, "y": {"field": "y", "type": "quantitative", "title": "intensity"}, "yError": {"field": "err"}}},
  {"data": {"name": "al"}, "transform": [{"filter": "datum.k == 'pts'"}], "mark": {"type": "point", "shape": "square", "filled": true, "size": 16, "color": "#1f77b4", "opacity": 1},
   "encoding": {"x": {"field": "x", "type": "quantitative", "title": "energy / eV - 17000"}, "y": {"field": "y", "type": "quantitative", "title": "intensity"}}},
  {"data": {"name": "al"}, "transform": [{"filter": "datum.k == 'bkg'"}], "mark": {"type": "errorbar", "color": "black", "thickness": 1, "ticks": {"size": 5, "thickness": 1, "color": "black"}},
   "encoding": {"x": {"field": "x", "type": "quantitative", "title": "energy / eV - 17000"}, "y": {"field": "y", "type": "quantitative", "title": "intensity"}, "yError": {"field": "err"}}},
  {"data": {"name": "al"}, "transform": [{"filter": "datum.k == 'bkg'"}], "mark": {"type": "point", "shape": "cross", "angle": 45, "filled": true, "size": 12, "color": "black", "opacity": 1},
   "encoding": {"x": {"field": "x", "type": "quantitative", "title": "energy / eV - 17000"}, "y": {"field": "y", "type": "quantitative", "title": "intensity"}}},
  {"data": {"name": "at"}, "transform": [{"filter": "datum.part == 'sym'"}], "mark": {"type": "text", "align": "left", "baseline": "alphabetic", "fontSize": 16.8, "fontStyle": "italic"},
   "encoding": {"x": {"field": "x", "type": "quantitative", "title": "energy / eV - 17000"}, "y": {"field": "y", "type": "quantitative", "title": "intensity"}, "text": {"field": "t"}}},
  {"data": {"name": "at"}, "transform": [{"filter": "datum.part == 'val'"}], "mark": {"type": "text", "align": "left", "baseline": "alphabetic", "fontSize": 16.8},
   "encoding": {"x": {"field": "x", "type": "quantitative", "title": "energy / eV - 17000"}, "y": {"field": "y", "type": "quantitative", "title": "intensity"}, "text": {"field": "t"}}},
  {"data": {"name": "at"}, "transform": [{"filter": "datum.part == 'sub'"}], "mark": {"type": "text", "align": "left", "baseline": "alphabetic", "fontSize": 11.4, "fontStyle": "italic", "dy": 4},
   "encoding": {"x": {"field": "x", "type": "quantitative", "title": "energy / eV - 17000"}, "y": {"field": "y", "type": "quantitative", "title": "intensity"}, "text": {"field": "t"}}},
  {"data": {"name": "at"}, "transform": [{"filter": "datum.part == 'idx'"}], "mark": {"type": "text", "align": "left", "baseline": "alphabetic", "fontSize": 8.5, "dy": 6.5},
   "encoding": {"x": {"field": "x", "type": "quantitative", "title": "energy / eV - 17000"}, "y": {"field": "y", "type": "quantitative", "title": "intensity"}, "text": {"field": "t"}}},
  {"data": {"name": "at"}, "transform": [{"filter": "datum.part == 'lab'"}], "mark": {"type": "text", "align": "left", "baseline": "middle", "fontSize": 16.6, "fontStyle": "italic"},
   "encoding": {"x": {"field": "x", "type": "quantitative", "title": "energy / eV - 17000"}, "y": {"field": "y", "type": "quantitative", "title": "intensity"}, "text": {"field": "t"}}},
  {"data": {"name": "at"}, "transform": [{"filter": "datum.part == 'labrm'"}], "mark": {"type": "text", "align": "left", "baseline": "middle", "fontSize": 16.6},
   "encoding": {"x": {"field": "x", "type": "quantitative", "title": "energy / eV - 17000"}, "y": {"field": "y", "type": "quantitative", "title": "intensity"}, "text": {"field": "t"}}},
  {"data": {"name": "at"}, "transform": [{"filter": "datum.part == 'labsub'"}], "mark": {"type": "text", "align": "left", "baseline": "middle", "fontSize": 11.5, "fontStyle": "italic", "dy": 4},
   "encoding": {"x": {"field": "x", "type": "quantitative", "title": "energy / eV - 17000"}, "y": {"field": "y", "type": "quantitative", "title": "intensity"}, "text": {"field": "t"}}}
 ]
},
{
 "width": 624, "height": 364,
 "title": {"text": "(b) Si filter", "orient": "bottom", "anchor": "middle", "offset": 36},
 "layer": [
  {"data": {"name": "b"}, "mark": {"type": "errorbar", "color": "#1f77b4", "thickness": 1, "ticks": {"size": 4, "thickness": 1, "color": "#1f77b4"}},
   "encoding": {
    "x": {"field": "e", "type": "quantitative", "title": "energy / eV - 17000", "scale": {"domain": [464.32, 494.12], "nice": false, "zero": false}, "axis": {"values": [465,470,475,480,485,490], "format": "d"}},
    "y": {"field": "i", "type": "quantitative", "title": "intensity", "scale": {"domain": [-0.0194, 0.1702], "nice": false, "zero": false}, "axis": {"values": [0,0.05,0.1,0.15], "format": ".2f"}},
    "yError": {"field": "ie"}}},
  {"data": {"name": "b"}, "mark": {"type": "point", "shape": "square", "filled": true, "size": 20, "color": "#1f77b4", "opacity": 1},
   "encoding": {"x": {"field": "e", "type": "quantitative", "title": "energy / eV - 17000"}, "y": {"field": "i", "type": "quantitative", "title": "intensity"}}},
  {"data": {"name": "b"}, "mark": {"type": "errorbar", "color": "black", "thickness": 0.8, "ticks": {"size": 4, "thickness": 0.8, "color": "black"}},
   "encoding": {"x": {"field": "e", "type": "quantitative", "title": "energy / eV - 17000"}, "y": {"field": "b", "type": "quantitative", "title": "intensity"}, "yError": {"field": "be"}}},
  {"data": {"name": "b"}, "mark": {"type": "point", "shape": "cross", "angle": 45, "filled": true, "size": 10, "color": "black", "opacity": 1},
   "encoding": {"x": {"field": "e", "type": "quantitative", "title": "energy / eV - 17000"}, "y": {"field": "b", "type": "quantitative", "title": "intensity"}}},
  {"data": {"name": "b"}, "mark": {"type": "line", "color": "#d62728", "strokeWidth": 4},
   "encoding": {"x": {"field": "e", "type": "quantitative", "title": "energy / eV - 17000"}, "y": {"field": "f", "type": "quantitative", "title": "intensity"}}},
  {"data": {"name": "bg"}, "mark": {"type": "line", "color": "#2ca02c", "strokeWidth": 3.5, "interpolate": "monotone"},
   "encoding": {"x": {"field": "e", "type": "quantitative", "title": "energy / eV - 17000"}, "y": {"field": "r", "type": "quantitative", "title": "intensity"}}},
  {"data": {"name": "bb"}, "mark": {"type": "line", "color": "#ff7f0e", "strokeWidth": 2, "interpolate": "monotone"},
   "encoding": {"x": {"field": "e", "type": "quantitative", "title": "energy / eV - 17000"}, "y": {"field": "g", "type": "quantitative", "title": "intensity"}}},
  {"data": {"name": "bl"}, "transform": [{"filter": "datum.k == 'fit'"}], "mark": {"type": "rule", "color": "#d62728", "strokeWidth": 4},
   "encoding": {"x": {"field": "x", "type": "quantitative", "title": "energy / eV - 17000"}, "x2": {"field": "x2"}, "y": {"field": "y", "type": "quantitative", "title": "intensity"}}},
  {"data": {"name": "bl"}, "transform": [{"filter": "datum.k == 'res'"}], "mark": {"type": "rule", "color": "#2ca02c", "strokeWidth": 3.5},
   "encoding": {"x": {"field": "x", "type": "quantitative", "title": "energy / eV - 17000"}, "x2": {"field": "x2"}, "y": {"field": "y", "type": "quantitative", "title": "intensity"}}},
  {"data": {"name": "bl"}, "transform": [{"filter": "datum.k == 'bgf'"}], "mark": {"type": "rule", "color": "#ff7f0e", "strokeWidth": 2},
   "encoding": {"x": {"field": "x", "type": "quantitative", "title": "energy / eV - 17000"}, "x2": {"field": "x2"}, "y": {"field": "y", "type": "quantitative", "title": "intensity"}}},
  {"data": {"name": "bl"}, "transform": [{"filter": "datum.k == 'pts'"}], "mark": {"type": "errorbar", "color": "#1f77b4", "thickness": 1, "ticks": {"size": 5, "thickness": 1, "color": "#1f77b4"}},
   "encoding": {"x": {"field": "x", "type": "quantitative", "title": "energy / eV - 17000"}, "y": {"field": "y", "type": "quantitative", "title": "intensity"}, "yError": {"field": "err"}}},
  {"data": {"name": "bl"}, "transform": [{"filter": "datum.k == 'pts'"}], "mark": {"type": "point", "shape": "square", "filled": true, "size": 16, "color": "#1f77b4", "opacity": 1},
   "encoding": {"x": {"field": "x", "type": "quantitative", "title": "energy / eV - 17000"}, "y": {"field": "y", "type": "quantitative", "title": "intensity"}}},
  {"data": {"name": "bl"}, "transform": [{"filter": "datum.k == 'bkg'"}], "mark": {"type": "errorbar", "color": "black", "thickness": 1, "ticks": {"size": 5, "thickness": 1, "color": "black"}},
   "encoding": {"x": {"field": "x", "type": "quantitative", "title": "energy / eV - 17000"}, "y": {"field": "y", "type": "quantitative", "title": "intensity"}, "yError": {"field": "err"}}},
  {"data": {"name": "bl"}, "transform": [{"filter": "datum.k == 'bkg'"}], "mark": {"type": "point", "shape": "cross", "angle": 45, "filled": true, "size": 12, "color": "black", "opacity": 1},
   "encoding": {"x": {"field": "x", "type": "quantitative", "title": "energy / eV - 17000"}, "y": {"field": "y", "type": "quantitative", "title": "intensity"}}},
  {"data": {"name": "bt"}, "transform": [{"filter": "datum.part == 'sym'"}], "mark": {"type": "text", "align": "left", "baseline": "alphabetic", "fontSize": 16.8, "fontStyle": "italic"},
   "encoding": {"x": {"field": "x", "type": "quantitative", "title": "energy / eV - 17000"}, "y": {"field": "y", "type": "quantitative", "title": "intensity"}, "text": {"field": "t"}}},
  {"data": {"name": "bt"}, "transform": [{"filter": "datum.part == 'val'"}], "mark": {"type": "text", "align": "left", "baseline": "alphabetic", "fontSize": 16.8},
   "encoding": {"x": {"field": "x", "type": "quantitative", "title": "energy / eV - 17000"}, "y": {"field": "y", "type": "quantitative", "title": "intensity"}, "text": {"field": "t"}}},
  {"data": {"name": "bt"}, "transform": [{"filter": "datum.part == 'sub'"}], "mark": {"type": "text", "align": "left", "baseline": "alphabetic", "fontSize": 11.4, "fontStyle": "italic", "dy": 4},
   "encoding": {"x": {"field": "x", "type": "quantitative", "title": "energy / eV - 17000"}, "y": {"field": "y", "type": "quantitative", "title": "intensity"}, "text": {"field": "t"}}},
  {"data": {"name": "bt"}, "transform": [{"filter": "datum.part == 'idx'"}], "mark": {"type": "text", "align": "left", "baseline": "alphabetic", "fontSize": 8.5, "dy": 6.5},
   "encoding": {"x": {"field": "x", "type": "quantitative", "title": "energy / eV - 17000"}, "y": {"field": "y", "type": "quantitative", "title": "intensity"}, "text": {"field": "t"}}},
  {"data": {"name": "bt"}, "transform": [{"filter": "datum.part == 'lab'"}], "mark": {"type": "text", "align": "left", "baseline": "middle", "fontSize": 16.6, "fontStyle": "italic"},
   "encoding": {"x": {"field": "x", "type": "quantitative", "title": "energy / eV - 17000"}, "y": {"field": "y", "type": "quantitative", "title": "intensity"}, "text": {"field": "t"}}},
  {"data": {"name": "bt"}, "transform": [{"filter": "datum.part == 'labrm'"}], "mark": {"type": "text", "align": "left", "baseline": "middle", "fontSize": 16.6},
   "encoding": {"x": {"field": "x", "type": "quantitative", "title": "energy / eV - 17000"}, "y": {"field": "y", "type": "quantitative", "title": "intensity"}, "text": {"field": "t"}}},
  {"data": {"name": "bt"}, "transform": [{"filter": "datum.part == 'labsub'"}], "mark": {"type": "text", "align": "left", "baseline": "middle", "fontSize": 11.5, "fontStyle": "italic", "dy": 4},
   "encoding": {"x": {"field": "x", "type": "quantitative", "title": "energy / eV - 17000"}, "y": {"field": "y", "type": "quantitative", "title": "intensity"}, "text": {"field": "t"}}}
 ]
}
]
}
